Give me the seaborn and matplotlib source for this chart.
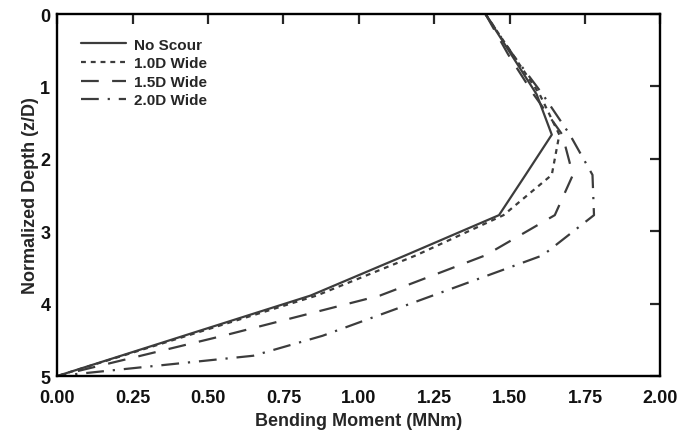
import pandas as pd
import seaborn as sns
import matplotlib.pyplot as plt


# depth (z/D) and bending moment (MNm)
DEPTH = [0, 0.556, 1.111, 1.667, 2.222, 2.778, 3.333, 3.889, 4.444, 5]
DEPTH_20D = [0, 0.556, 1.111, 1.667, 2.222, 2.778, 3.333, 3.889, 4.444, 4.72, 5]

no_scour = [1.42, 1.505, 1.59, 1.64, 1.553, 1.465, 1.155, 0.84, 0.42, 0]
wide_10d = [1.42, 1.51, 1.60, 1.665, 1.64, 1.48, 1.19, 0.86, 0.43, 0]
wide_15d = [1.42, 1.495, 1.58, 1.675, 1.71, 1.65, 1.42, 1.07, 0.55, 0]
wide_20d = [1.42, 1.51, 1.61, 1.70, 1.775, 1.78, 1.61, 1.245, 0.88, 0.65, 0]

LABELS = ['No Scour', '1.0D Wide', '1.5D Wide', '2.0D Wide']
X_TICKS = [0.00, 0.25, 0.50, 0.75, 1.00, 1.25, 1.50, 1.75, 2.00]
Y_TICKS = [0, 1, 2, 3, 4, 5]


def build_frames():
    frames = []
    for label, depth, moment in zip(LABELS,
                                    [DEPTH, DEPTH, DEPTH, DEPTH_20D],
                                    [no_scour, wide_10d, wide_15d, wide_20d]):
        frames.append(pd.DataFrame({'depth': depth, 'moment': moment, 'case': label}))
    return frames


def plot_moment(frames):
    sns.set_style('white')
    plt.rcParams['font.family'] = ['Liberation Sans', 'DejaVu Sans']
    fig, ax = plt.subplots(figsize=(6.9, 4.35), dpi=100)
    fig.subplots_adjust(left=0.083, right=0.957, top=0.9655, bottom=0.1333)

    styles = ['-', (0, (2.2, 2.2)), (0, (8, 6)), (0, (8, 4, 1, 4))]
    color = '#3c3c3c'
    # draw solid last so it sits on top
    order = [1, 2, 3, 0]
    for i in order:
        df = frames[i]
        sns.lineplot(data=df, x='moment', y='depth', sort=False, estimator=None,
                     color=color, linestyle=styles[i], linewidth=1.6,
                     label=LABELS[i], ax=ax)

    ax.set_xlim(0, 2)
    ax.set_ylim(5, 0)
    ax.set_xticks(X_TICKS)
    ax.set_xticklabels([f'{v:.2f}' for v in X_TICKS])
    ax.set_yticks(Y_TICKS)
    ax.tick_params(direction='in', length=7, width=1.6, top=True, right=True,
                   labelsize=13, labelcolor='#111111')
    ax.tick_params(axis='x', pad=9)
    ax.tick_params(axis='y', pad=5)
    for lab in ax.get_xticklabels() + ax.get_yticklabels():
        lab.set_fontweight('bold')
    for sp in ax.spines.values():
        sp.set_linewidth(1.7)
        sp.set_color('black')

    ax.set_xlabel('Bending Moment (MNm)', fontsize=13, fontweight='bold', labelpad=5)
    ax.set_ylabel('Normalized Depth (z/D)', fontsize=13, fontweight='bold', labelpad=1)

    h, l = ax.get_legend_handles_labels()
    lookup = dict(zip(l, h))
    ax.legend([lookup[k] for k in LABELS], LABELS, loc='upper left',
              frameon=False, handlelength=2.95, handletextpad=0.55,
              labelspacing=0.3, borderaxespad=1.15,
              prop={'weight': 'bold', 'size': 11})

    fig.savefig('out.png', dpi=100)


if __name__ == '__main__':
    frames = build_frames()
    plot_moment(frames)
